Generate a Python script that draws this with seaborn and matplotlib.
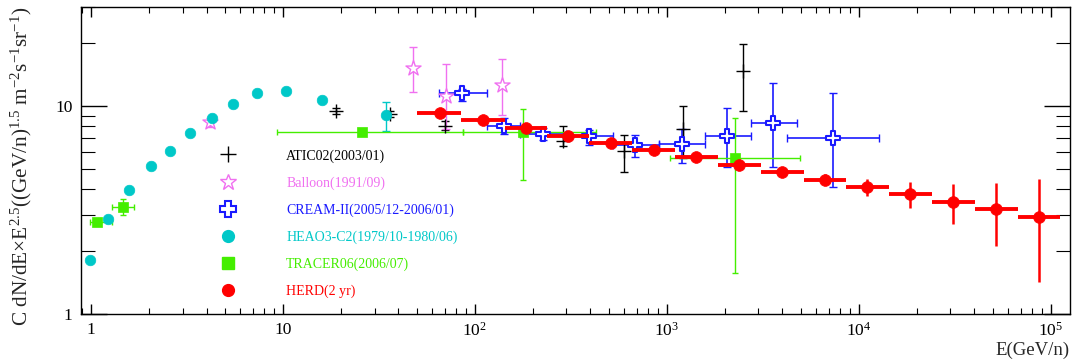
import numpy as np
import pandas as pd
import matplotlib
matplotlib.use('Agg')
import matplotlib.pyplot as plt
import seaborn as sns
from matplotlib.lines import Line2D
from matplotlib.ticker import FixedLocator, FixedFormatter, LogLocator, NullFormatter

# ---- data (E in GeV/n, flux x E^2.5) ----
# ATIC02 (2003/01)
atic_e = [18.9, 36.1, 69.5, 288, 597, 1220, 2500]
atic_flux = [9.43, 9.16, 8.04, 6.79, 6.06, 7.78, 14.7]
atic_lo = [9.16, 8.88, 7.67, 6.40, 4.80, 5.64, 9.46]
atic_hi = [9.75, 9.43, 8.50, 7.99, 7.23, 10.0, 19.9]

# Balloon (1991/09)
bal_e = [4.17, 47.4, 70.4, 138]
bal_flux = [8.4, 15.2, 11.2, 12.6]
bal_lo = [7.96, 11.7, 7.73, 9.02]
bal_hi = [8.73, 19.2, 15.9, 16.8]

# CREAM-II (2005/12-2006/01)
cream_e = [85.3, 141, 227, 394, 681, 1200, 2070, 3580, 7350]
cream_flux = [11.5, 8.04, 7.34, 7.17, 6.52, 6.57, 7.15, 8.26, 6.99]
cream_elo = [65.2, 116, 172, 300, 525, 908, 1590, 2760, 4230]
cream_ehi = [116, 172, 300, 525, 908, 1590, 2760, 4770, 12760]
cream_lo = [10.6, 7.31, 6.86, 6.49, 5.67, 5.30, 5.11, 5.07, 4.06]
cream_hi = [12.1, 8.73, 7.80, 7.71, 7.23, 7.78, 9.75, 12.9, 11.6]

# HEAO3-C2 (1979/10-1980/06)
heao_e = [0.99, 1.22, 1.57, 2.06, 2.59, 3.29, 4.25, 5.49, 7.35, 10.4, 16.0, 34.4]
heao_flux = [1.82, 2.87, 3.95, 5.13, 6.08, 7.42, 8.73, 10.2, 11.6, 11.8, 10.7, 9.02]
heao_lo = [1.80, 2.84, 3.91, 5.08, 6.02, 7.35, 8.64, 10.1, 11.5, 11.7, 10.6, 7.56]
heao_hi = [1.84, 2.90, 3.99, 5.18, 6.14, 7.49, 8.82, 10.3, 11.7, 11.9, 10.8, 10.4]

# TRACER06 (2006/07)
tracer_e = [1.08, 1.47, 25.7, 179, 2260]
tracer_flux = [2.78, 3.28, 7.50, 7.47, 5.61]
tracer_elo = [0.99, 1.28, 9.34, 86.3, 1040]
tracer_ehi = [1.29, 1.68, 86.3, 427, 4940]
tracer_lo = [2.70, 2.99, 7.40, 4.39, 1.57]
tracer_hi = [2.86, 3.56, 7.60, 9.64, 8.73]

# HERD (2 yr) expected
herd_e = [66, 110, 184, 306, 509, 855, 1420, 2380, 3990, 6670, 11100, 18600, 31100, 51900, 86900]
herd_elo = [50, 85, 143, 237, 394, 662, 1100, 1840, 3090, 5170, 8620, 14400, 24100, 40200, 67300]
herd_ehi = [85, 143, 237, 394, 662, 1100, 1840, 3090, 5170, 8620, 14400, 24100, 40200, 67300, 112000]
herd_flux = [9.29, 8.57, 7.81, 7.20, 6.62, 6.12, 5.69, 5.19, 4.80, 4.39, 4.07, 3.78, 3.44, 3.19, 2.92]
herd_lo = [9.15, 8.45, 7.70, 7.10, 6.52, 6.02, 5.58, 5.07, 4.60, 4.17, 3.70, 3.24, 2.72, 2.13, 1.43]
herd_hi = [9.43, 8.69, 7.92, 7.30, 6.72, 6.22, 5.80, 5.31, 5.00, 4.71, 4.46, 4.31, 4.22, 4.26, 4.44]

labels = ['ATIC02(2003/01)', 'Balloon(1991/09)', 'CREAM-II(2005/12-2006/01)',
          'HEAO3-C2(1979/10-1980/06)', 'TRACER06(2006/07)', 'HERD(2 yr)']
colors = ['black', '#f070f0', '#1a1aff', '#00c8c8', '#44ee00', '#ff0000']

sns.set_style('ticks')
plt.rcParams['font.family'] = ['Liberation Serif', 'DejaVu Serif']
plt.rcParams['mathtext.fontset'] = 'custom'
plt.rcParams['mathtext.rm'] = 'Liberation Serif'
plt.rcParams['mathtext.it'] = 'Liberation Serif:italic'
plt.rcParams['mathtext.default'] = 'rm'


def yerr(flux, lo, hi):
    return [np.array(flux) - np.array(lo), np.array(hi) - np.array(flux)]


def xerr(e, elo, ehi):
    return [np.array(e) - np.array(elo), np.array(ehi) - np.array(e)]


fig, ax = plt.subplots(figsize=(10.8, 3.6), dpi=100)
fig.subplots_adjust(left=0.075, right=0.9907, bottom=0.128, top=0.981)

# ATIC
ax.errorbar(atic_e, atic_flux, yerr=yerr(atic_flux, atic_lo, atic_hi), fmt='none',
            ecolor=colors[0], elinewidth=1, capsize=3, zorder=2)
sns.scatterplot(x=atic_e, y=atic_flux, marker='+', color=colors[0], s=90, linewidth=1, ax=ax, zorder=3)

# Balloon
ax.errorbar(bal_e, bal_flux, yerr=yerr(bal_flux, bal_lo, bal_hi), fmt='none',
            ecolor=colors[1], elinewidth=1, capsize=3, zorder=2)
sns.scatterplot(x=bal_e, y=bal_flux, marker='*', color='white', edgecolor=colors[1],
                s=130, linewidth=1, ax=ax, zorder=3)

# CREAM-II
ax.errorbar(cream_e, cream_flux, xerr=xerr(cream_e, cream_elo, cream_ehi),
            yerr=yerr(cream_flux, cream_lo, cream_hi), fmt='none',
            ecolor=colors[2], elinewidth=1.2, capsize=3, zorder=2)
sns.scatterplot(x=cream_e, y=cream_flux, marker='P', color='white', edgecolor=colors[2],
                s=110, linewidth=1.5, ax=ax, zorder=3)

# HEAO3-C2
ax.errorbar(heao_e, heao_flux, yerr=yerr(heao_flux, heao_lo, heao_hi), fmt='none',
            ecolor=colors[3], elinewidth=1, capsize=3, zorder=2)
sns.scatterplot(x=heao_e, y=heao_flux, marker='o', color=colors[3], edgecolor=colors[3],
                s=58, linewidth=0.5, ax=ax, zorder=3)

# TRACER06
ax.errorbar(tracer_e, tracer_flux, xerr=xerr(tracer_e, tracer_elo, tracer_ehi),
            yerr=yerr(tracer_flux, tracer_lo, tracer_hi), fmt='none',
            ecolor=colors[4], elinewidth=1, capsize=2.5, zorder=2)
sns.scatterplot(x=tracer_e, y=tracer_flux, marker='s', color=colors[4], edgecolor=colors[4],
                s=62, linewidth=0.5, ax=ax, zorder=3)

# HERD
ax.errorbar(herd_e, herd_flux, xerr=xerr(herd_e, herd_elo, herd_ehi), fmt='none',
            ecolor=colors[5], elinewidth=2.8, capsize=0, zorder=4)
ax.errorbar(herd_e, herd_flux, yerr=yerr(herd_flux, herd_lo, herd_hi), fmt='none',
            ecolor=colors[5], elinewidth=1.8, capsize=0, zorder=4)
sns.scatterplot(x=herd_e, y=herd_flux, marker='o', color=colors[5], edgecolor=colors[5],
                s=72, linewidth=0.5, ax=ax, zorder=5)

# axes, ROOT-like
ax.set_xscale('log')
ax.set_yscale('log')
ax.set_xlim(0.887, 1.26e5)
ax.set_ylim(1, 30)

ax.xaxis.set_major_locator(FixedLocator([1, 10, 1e2, 1e3, 1e4, 1e5]))
ax.xaxis.set_major_formatter(FixedFormatter(['1', '10', '$10^{2}$', '$10^{3}$', '$10^{4}$', '$10^{5}$']))
ax.xaxis.set_minor_locator(LogLocator(base=10, subs=np.arange(2, 10), numticks=20))
ax.xaxis.set_minor_formatter(NullFormatter())
ax.yaxis.set_major_locator(FixedLocator([1, 10]))
ax.yaxis.set_major_formatter(FixedFormatter(['1', '10']))
ax.yaxis.set_minor_locator(LogLocator(base=10, subs=np.arange(2, 10), numticks=20))
ax.yaxis.set_minor_formatter(NullFormatter())

ax.tick_params(axis='both', which='both', direction='in', top=True, right=True, colors='black')
ax.tick_params(axis='x', which='major', length=7.5, width=1, labelsize=12.5, pad=6)
ax.tick_params(axis='x', which='minor', length=4, width=0.8)
ax.tick_params(axis='y', which='major', length=19, width=1, labelsize=12.5, pad=6)
ax.tick_params(axis='y', which='minor', length=10, width=0.8)
for sp in ax.spines.values():
    sp.set_visible(True)
    sp.set_color('black')
    sp.set_linewidth(1)
ax.grid(False)

ax.set_ylabel('C dN/dE×E$^{2.5}$((GeV/n)$^{1.5}$ m$^{-2}$s$^{-1}$sr$^{-1}$)', fontsize=15.3)
ax.yaxis.set_label_coords(-0.048, 0.48)
ax.set_xlabel('E(GeV/n)', fontsize=13.5, loc='right', labelpad=1)

# legend
handles = [
    Line2D([], [], ls='none', marker='+', color=colors[0], ms=11, mew=1),
    Line2D([], [], ls='none', marker='*', mfc='white', mec=colors[1], ms=12, mew=1),
    Line2D([], [], ls='none', marker='P', mfc='white', mec=colors[2], ms=11, mew=1.5),
    Line2D([], [], ls='none', marker='o', color=colors[3], ms=8.5),
    Line2D([], [], ls='none', marker='s', color=colors[4], ms=8.5),
    Line2D([], [], ls='none', marker='o', color=colors[5], ms=8.5),
]
leg = ax.legend(handles, labels, loc='upper left', bbox_to_anchor=(0.1345, 0.537),
                frameon=False, fontsize=10, handlelength=2, handletextpad=3.2,
                labelspacing=0.98, borderpad=0, borderaxespad=0)
for t, c in zip(leg.get_texts(), colors):
    t.set_color(c)

fig.savefig('out.png', dpi=100)
